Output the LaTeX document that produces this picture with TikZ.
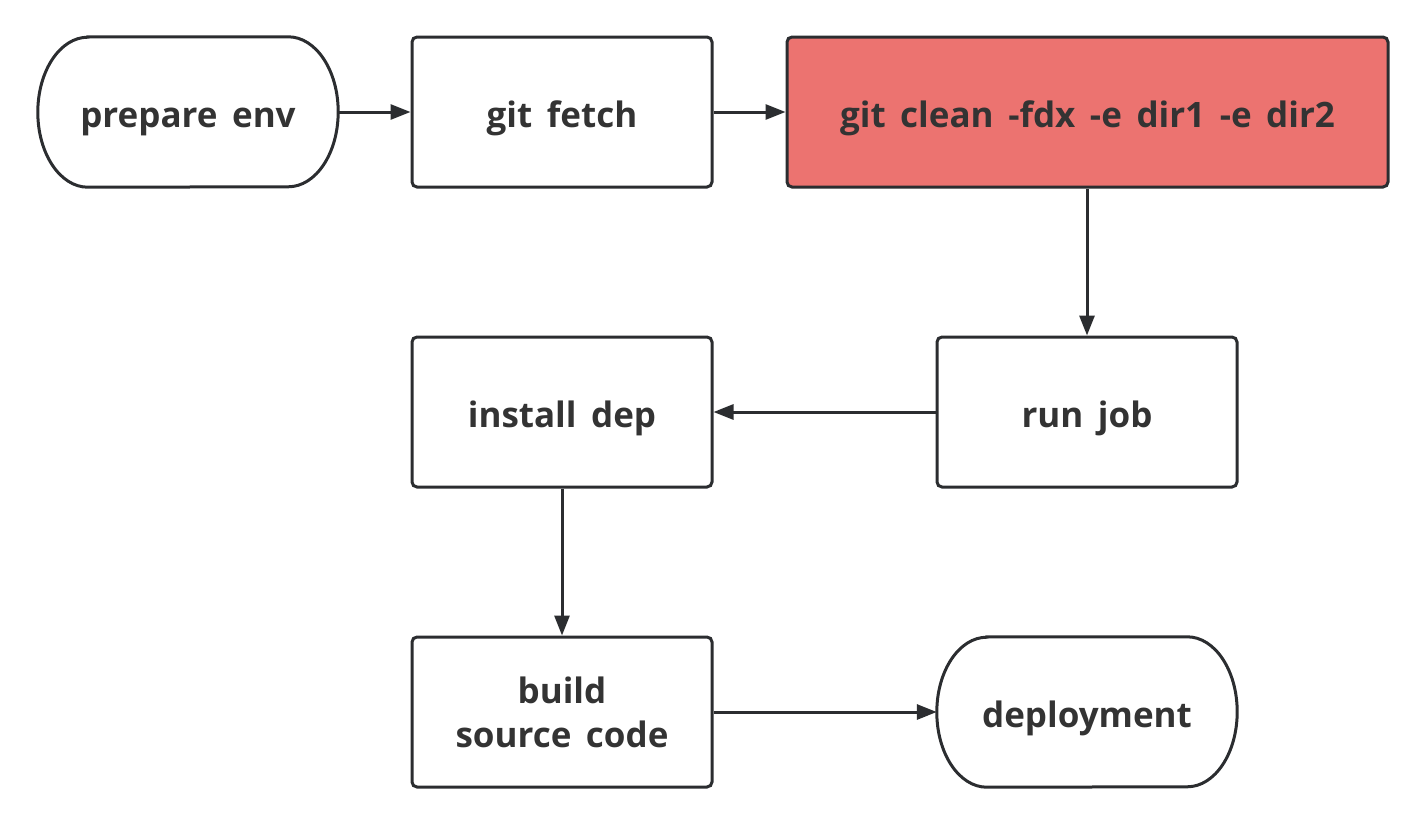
\documentclass[tikz,border=0pt]{standalone}
\usepackage{fontspec}
\setmainfont{Open Sans}[WordSpace=1.6]
\usetikzlibrary{arrows.meta}
\definecolor{ink}{HTML}{2B2D30}
\definecolor{txt}{HTML}{333333}
\definecolor{redfill}{HTML}{EC7370}
\tikzset{
  lbl/.style={text=txt, font=\fontsize{35}{44}\selectfont\bfseries, align=center, inner sep=0pt},
  oneline/.style={text height=38pt, text depth=8pt},
  box/.style={lbl, draw=ink, line width=3pt, rounded corners=5pt, minimum width=300pt, minimum height=150pt},
  term/.style={lbl, oneline, draw=none, minimum width=300pt, minimum height=150pt},
  stad/.style={draw=ink, line width=3pt},
  conn/.style={draw=ink, line width=3pt, -{Triangle[length=20pt, width=15pt]}}
}
\begin{document}
\begin{tikzpicture}[x=1pt, y=-1pt]
\useasboundingbox (0,0) rectangle (1425,825);
\node[term] (pe) at (188,112) {prepare env};
\node[box, oneline] (gf) at (562,112) {git fetch};
\node[box, oneline, fill=redfill, minimum width=601pt] (gc) at (1087.5,112) {git clean -fdx -e dir1 -e dir2};
\node[box, oneline] (rj) at (1087,412) {run job};
\node[box, oneline] (id) at (562,412) {install dep};
\node[box] (bs) at (562,712) {build\\source code};
\node[term] (dp) at (1087,712) {deployment};
\foreach \n in {pe,dp}{
  \draw[stad] ([xshift=50pt]\n.north west) -- ([xshift=-50pt]\n.north east)
    arc[start angle=90, end angle=-90, x radius=50pt, y radius=75pt]
    -- ([xshift=50pt]\n.south west)
    arc[start angle=270, end angle=90, x radius=50pt, y radius=75pt] -- cycle;
}
\draw[conn] (pe.east) -- (gf.west);
\draw[conn] (gf.east) -- (gc.west);
\draw[conn] (gc.south -| rj.north) -- (rj.north);
\draw[conn] (rj.west) -- (id.east);
\draw[conn] (id.south) -- (bs.north);
\draw[conn] (bs.east) -- (dp.west);
\end{tikzpicture}
\end{document}
